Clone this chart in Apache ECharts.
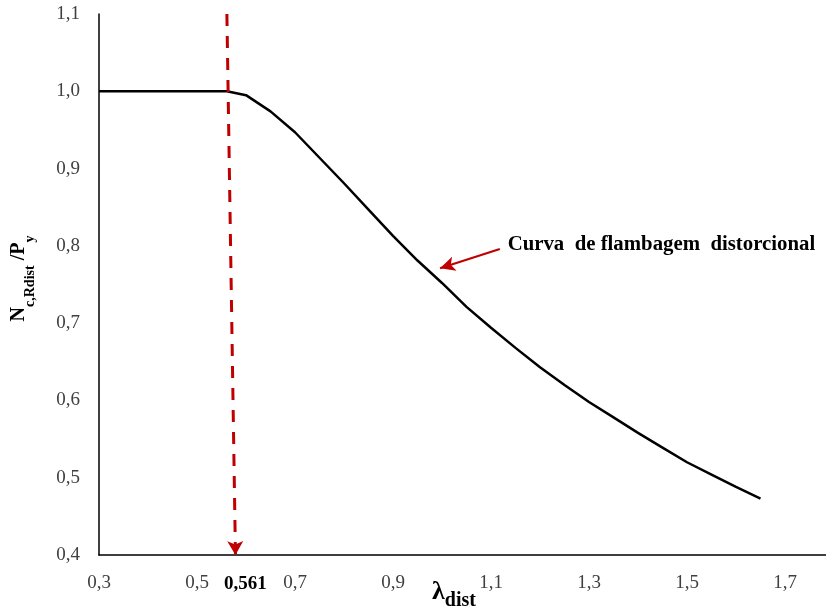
<!DOCTYPE html>
<html>
<head>
<meta charset="utf-8">
<script src="https://cdn.jsdelivr.net/npm/echarts@6/dist/echarts.min.js"></script>
<style>
  html, body { margin: 0; padding: 0; background: #ffffff; }
  #chart { width: 826px; height: 612px; }
</style>
</head>
<body>
<div id="chart"></div>
<script>
// Distortional buckling curve: slenderness vs. normalised resistance
const lambdaDist = [0.3, 0.561, 0.6, 0.65, 0.7, 0.75, 0.8, 0.85, 0.9, 0.95, 1.0,
                    1.05, 1.1, 1.15, 1.2, 1.25, 1.3, 1.35, 1.4, 1.45, 1.5, 1.55, 1.6, 1.65];
const ratioNcPy  = [1.0, 1.0, 0.995, 0.974, 0.947, 0.914, 0.881, 0.847, 0.813, 0.781, 0.752,
                    0.721, 0.694, 0.668, 0.643, 0.620, 0.598, 0.578, 0.558, 0.539, 0.520, 0.504, 0.488, 0.473];

// Limit slenderness marker (dashed red line with arrow to the axis)
const limitLambda = 0.561;
const limitArrowLambda = 0.5785;

// Axis settings
const xMin = 0.3, xMax = 1.8, xStep = 0.1;
const yMin = 0.4, yMax = 1.1, yStep = 0.1;

const annotationText = 'Curva  de flambagem  distorcional';
const annotationArrow = [[1.118, 0.796], [0.996, 0.771]];
const annotationAnchor = [1.134, 0.802];

const serif = '"Liberation Serif", "Times New Roman", serif';
const fmt = v => v.toFixed(1).replace('.', ',');

const chart = echarts.init(document.getElementById('chart'), null, { renderer: 'canvas' });

chart.setOption({
  backgroundColor: '#ffffff',
  animation: false,
  grid: {
    left: 99, top: 14, width: 735, height: 541,
    containLabel: false, outerBoundsMode: 'none'
  },
  xAxis: {
    type: 'value', min: xMin, max: xMax, interval: xStep,
    axisLine: { show: true, onZero: false, lineStyle: { color: '#000', width: 1.5 } },
    axisTick: { show: false },
    splitLine: { show: false },
    axisLabel: {
      show: true, margin: 19, color: '#404040', fontFamily: serif, fontSize: 19,
      showMaxLabel: false,
      formatter: v => (Math.round(v * 10) % 2 === 1 ? fmt(v) : '')
    }
  },
  yAxis: {
    type: 'value', min: yMin, max: yMax, interval: yStep,
    axisLine: { show: true, onZero: false, lineStyle: { color: '#000', width: 1.5 } },
    axisTick: { show: false },
    splitLine: { show: false },
    axisLabel: { margin: 19, color: '#404040', fontFamily: serif, fontSize: 19, formatter: fmt },
    name: '{b|N}{s|c,Rdist}{b| /P}{s|y}',
    nameLocation: 'middle',
    nameGap: 62,
    nameRotate: 90,
    nameTextStyle: {
      fontFamily: serif, color: '#000',
      padding: [0, 0, 0, 12],
      rich: {
        b: { fontFamily: serif, fontSize: 20, fontWeight: 'bold', color: '#000', verticalAlign: 'top', lineHeight: 28 },
        s: { fontFamily: serif, fontSize: 14, fontWeight: 'bold', color: '#000', verticalAlign: 'bottom', lineHeight: 28 }
      }
    }
  },
  series: [
    {
      type: 'line',
      data: lambdaDist.map((x, i) => [x, ratioNcPy[i]]),
      showSymbol: false,
      symbol: 'none',
      lineStyle: { color: '#000', width: 2.5 },
      z: 3,
      markLine: {
        silent: true,
        animation: false,
        label: { show: false },
        data: [
          [
            { coord: [limitLambda, yMax], symbol: 'none',
              lineStyle: { color: '#c00000', width: 3, type: [12, 10] } },
            { coord: [limitArrowLambda, yMin], symbol: 'arrow', symbolSize: [12, 14] }
          ],
          [
            { coord: annotationArrow[0], symbol: 'none',
              lineStyle: { color: '#c00000', width: 2.2, type: 'solid' } },
            { coord: annotationArrow[1], symbol: 'arrow', symbolSize: [11, 15] }
          ]
        ]
      }
    }
  ]
});

// Text placed through the axis scales
const pLimit = chart.convertToPixel({ gridIndex: 0 }, [limitArrowLambda, yMin]);
const pNote = chart.convertToPixel({ gridIndex: 0 }, annotationAnchor);
const pXName = chart.convertToPixel({ gridIndex: 0 }, [1.0, yMin]);

chart.setOption({
  graphic: [
    {
      type: 'text', x: pLimit[0] + 10, y: pLimit[1] + 29,
      style: {
        text: String(limitLambda).replace('.', ','),
        font: 'bold 19px ' + serif, fill: '#000', align: 'center', verticalAlign: 'middle'
      }
    },
    {
      type: 'text', x: pNote[0], y: pNote[1],
      style: {
        text: annotationText, font: 'bold 20.8px ' + serif, fill: '#000',
        align: 'left', verticalAlign: 'middle'
      }
    },
    {
      type: 'text', x: pXName[0] - 10, y: pXName[1] + 40,
      style: {
        text: '{l|λ}{s|dist}',
        align: 'left', verticalAlign: 'middle',
        rich: {
          l: { font: 'bold 26px ' + serif, fill: '#000', verticalAlign: 'top', lineHeight: 32 },
          s: { font: 'bold 20px ' + serif, fill: '#000', verticalAlign: 'bottom', lineHeight: 32 }
        }
      }
    }
  ]
});
</script>
</body>
</html>
